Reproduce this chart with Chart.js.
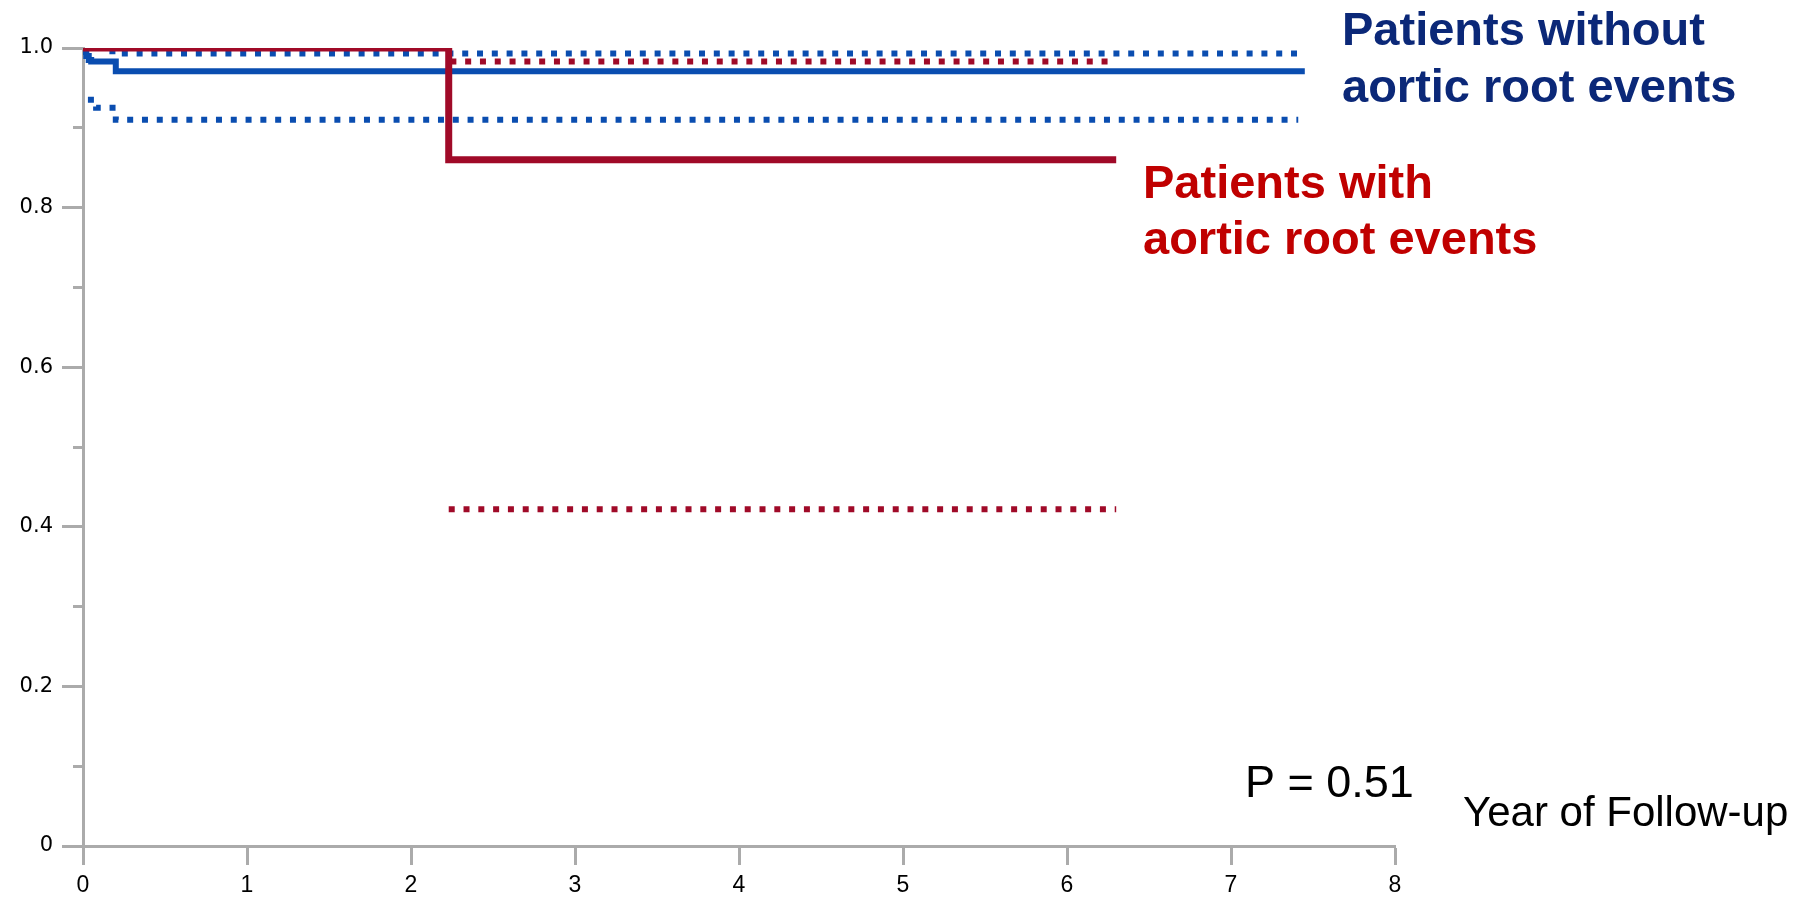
<!DOCTYPE html>
<html>
<head>
<meta charset="utf-8">
<script src="https://cdn.jsdelivr.net/npm/chart.js@4/dist/chart.umd.min.js"></script>
<style>
  html, body { margin: 0; padding: 0; background: #ffffff; }
  canvas { display: block; }
</style>
</head>
<body>
<canvas id="c" width="1819" height="901"></canvas>
<script>
// ---- Data ----
const withEventsTime      = [0, 2.23, 6.30];
const withEventsSurv      = [1.0, 0.860, 0.860];
const withEventsUpperTime = [2.24, 6.30];
const withEventsUpper     = [0.983, 0.983];
const withEventsLowerTime = [2.23, 6.30];
const withEventsLower     = [0.422, 0.422];

const withoutEventsTime      = [0, 0.01, 0.02, 0.035, 0.05, 0.20, 7.45];
const withoutEventsSurv      = [1.0, 0.995, 0.990, 0.985, 0.983, 0.971, 0.971];
const withoutEventsUpperTime = [0, 0.12, 0.21, 7.41];
const withoutEventsUpper     = [1.0, 0.996, 0.993, 0.993];
const withoutEventsLowerTime = [0.03, 0.08, 0.20, 7.41];
const withoutEventsLower     = [0.935, 0.925, 0.910, 0.910];

const xTicks = [0, 1, 2, 3, 4, 5, 6, 7, 8];
const yTicks = [0, 0.2, 0.4, 0.6, 0.8, 1.0];

const BLUE = '#0A4DB0';
const RED = '#A00A28';

function pts(xs, ys) { return xs.map((x, i) => ({ x: x, y: ys[i] })); }

const dotted = { borderWidth: 6, borderDash: [6, 8.8], borderCapStyle: 'butt' };

const annotations = {
  id: 'annotations',
  afterDraw(chart) {
    const ctx = chart.ctx;
    ctx.save();
    ctx.textAlign = 'left';
    ctx.textBaseline = 'alphabetic';
    ctx.font = 'bold 47px "Liberation Sans", Arial, sans-serif';
    ctx.fillStyle = '#0B2878';
    ctx.fillText('Patients without', 1342, 45);
    ctx.fillText('aortic root events', 1342, 102);
    ctx.fillStyle = '#C00000';
    ctx.fillText('Patients with', 1143, 198);
    ctx.fillText('aortic root events', 1143, 254);
    ctx.fillStyle = '#000000';
    ctx.font = '45px "Liberation Sans", Arial, sans-serif';
    ctx.fillText('P = 0.51', 1245, 797);
    ctx.font = '42px "Liberation Sans", Arial, sans-serif';
    ctx.fillText('Year of Follow-up', 1463, 826);
    ctx.restore();
  }
};

new Chart(document.getElementById('c'), {
  type: 'line',
  data: {
    datasets: [
      Object.assign({ data: pts(withEventsTime, withEventsSurv), borderColor: RED, borderWidth: 7 }, {}),
      Object.assign({ data: pts(withEventsUpperTime, withEventsUpper), borderColor: RED }, dotted),
      Object.assign({ data: pts(withEventsLowerTime, withEventsLower), borderColor: RED }, dotted),
      Object.assign({ data: pts(withoutEventsTime, withoutEventsSurv), borderColor: BLUE, borderWidth: 6 }, {}),
      Object.assign({ data: pts(withoutEventsUpperTime, withoutEventsUpper), borderColor: BLUE }, dotted),
      Object.assign({ data: pts(withoutEventsLowerTime, withoutEventsLower), borderColor: BLUE }, dotted)
    ].map(d => Object.assign({ stepped: true, pointRadius: 0, fill: false, tension: 0 }, d))
  },
  options: {
    responsive: false,
    animation: false,
    events: [],
    layout: { padding: { top: 48, right: 424, left: 0, bottom: 0 } },
    plugins: { legend: { display: false }, tooltip: { enabled: false } },
    scales: {
      x: {
        type: 'linear', min: 0, max: 8,
        afterBuildTicks: s => { s.ticks = xTicks.map(v => ({ value: v })); },
        afterFit: s => { s.height = 55; },
        grid: { drawOnChartArea: false, drawTicks: true, tickLength: 19, tickColor: '#ABABAB', tickWidth: 3 },
        border: { display: true, color: '#ABABAB', width: 3 },
        ticks: { color: '#000', padding: 7, font: { family: '"Liberation Sans", Arial, sans-serif', size: 23 }, callback: v => String(v) }
      },
      y: {
        type: 'linear', min: 0, max: 1, weight: 1,
        afterBuildTicks: s => { s.ticks = yTicks.map(v => ({ value: v })); },
        afterFit: s => { s.width = 83; },
        grid: { drawOnChartArea: false, drawTicks: true, tickLength: 21, tickColor: '#ABABAB', tickWidth: 3 },
        border: { display: true, color: '#ABABAB', width: 3 },
        ticks: { color: '#000', padding: 9, font: { family: '"DejaVu Sans", Verdana, sans-serif', size: 21 },
                 callback: v => (v === 0 ? '0' : Number(v).toFixed(1)) }
      },
      yMinor: {
        type: 'linear', position: 'left', min: 0, max: 1, weight: 0,
        afterBuildTicks: s => { s.ticks = [0.1, 0.3, 0.5, 0.7, 0.9].map(v => ({ value: v })); },
        afterFit: s => { s.width = 0; },
        grid: { drawOnChartArea: false, drawTicks: true, tickLength: 10, tickColor: '#ABABAB', tickWidth: 3 },
        border: { display: false },
        ticks: { display: false }
      }
    }
  },
  plugins: [annotations]
});
</script>
</body>
</html>
